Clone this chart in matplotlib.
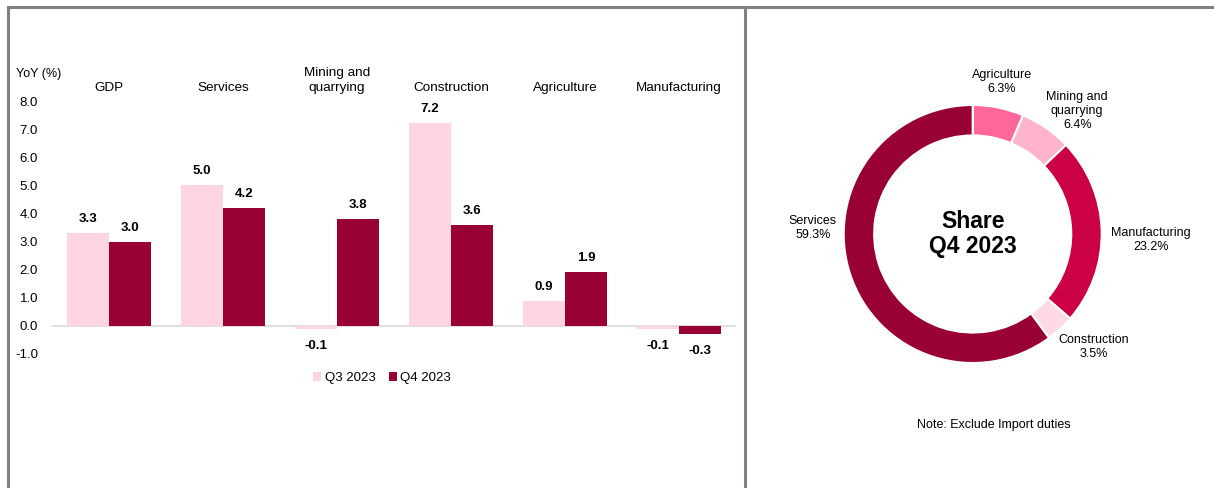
import matplotlib
matplotlib.use("Agg")
import matplotlib.pyplot as plt
import numpy as np
from matplotlib.lines import Line2D
from matplotlib.patches import Patch
from matplotlib.transforms import blended_transform_factory

plt.rcParams['font.family'] = ['Liberation Sans', 'DejaVu Sans']

# ---- data ----
categories = ["GDP", "Services", "Mining and\nquarrying", "Construction", "Agriculture", "Manufacturing"]
q3_2023 = [3.3, 5.0, -0.1, 7.2, 0.9, -0.1]
q4_2023 = [3.0, 4.2, 3.8, 3.6, 1.9, -0.3]
series_names = ["Q3 2023", "Q4 2023"]
yticks = [-1.0, 0.0, 1.0, 2.0, 3.0, 4.0, 5.0, 6.0, 7.0, 8.0]

share_labels = ["Agriculture", "Mining and\nquarrying", "Manufacturing", "Construction", "Services"]
share_values = [6.3, 6.4, 23.2, 3.5, 59.3]

C_Q3 = "#FFD5E2"
C_Q4 = "#990033"
share_colors = ["#FF6699", "#FFB3CC", "#CC0044", "#FFD9E5", "#990033"]

W, H = 1214, 488
fig = plt.figure(figsize=(W / 100, H / 100), dpi=100)
fig.patch.set_facecolor("white")

def px_rect(x0, y0, x1, y1):
    return [x0 / W, 1 - y1 / H, (x1 - x0) / W, (y1 - y0) / H]

# ---- frame lines ----
frame_color = "#808080"
fig.add_artist(Line2D([7.5 / W, 1.0], [1 - 6.8 / H] * 2, color=frame_color, lw=2.2, transform=fig.transFigure))
fig.add_artist(Line2D([7.8 / W] * 2, [0, 1 - 6.8 / H], color=frame_color, lw=2.2, transform=fig.transFigure))
fig.add_artist(Line2D([744.5 / W] * 2, [0, 1 - 6.8 / H], color=frame_color, lw=2.2, transform=fig.transFigure))

# ---- bar chart ----
ax = fig.add_axes(px_rect(52, 101, 736, 354))
n = len(categories)
x = np.arange(n)
bw = 0.368
ax.bar(x - bw / 2, q3_2023, width=bw, color=C_Q3, label=series_names[0], zorder=2)
ax.bar(x + bw / 2, q4_2023, width=bw, color=C_Q4, label=series_names[1], zorder=2)
ax.set_xlim(-0.5, n - 0.5)
ax.set_ylim(-1.0, 8.0)
ax.axhline(0, color="#D9D9D9", lw=1.2, zorder=1)
for s in ax.spines.values():
    s.set_visible(False)
ax.set_xticks([])
ax.set_yticks(yticks)
ax.set_yticklabels([f"{v:.1f}" for v in yticks], fontsize=9.5, color="#000000")
ax.tick_params(axis="y", length=0, pad=10)

for xs, vals in ((x - bw / 2, q3_2023), (x + bw / 2, q4_2023)):
    for xi, v in zip(xs, vals):
        off = 14 if v >= 0 else -17
        ax.annotate(f"{v:.1f}", (xi, v), xytext=(0, off), textcoords="offset pixels",
                    ha="center", va="center", fontsize=9.5, fontweight="bold")

trans = blended_transform_factory(ax.transData, fig.transFigure)
for xi, c in zip(x, categories):
    ax.text(xi, 1 - 94 / H, c, transform=trans, ha="center", va="bottom", fontsize=9.7,
            linespacing=1.3)

fig.text(16 / W, 1 - 74 / H, "YoY (%)", ha="left", va="center", fontsize=9,
         bbox=dict(facecolor="white", edgecolor="none", pad=3))

handles = [Patch(facecolor=C_Q3), Patch(facecolor=C_Q4)]
fig.legend(handles, series_names, loc="center", bbox_to_anchor=(382 / W, 1 - 378 / H),
           ncol=2, frameon=False, fontsize=9.5, handlelength=0.6, handleheight=0.6,
           handletextpad=0.3, columnspacing=1.0)

# ---- donut ----
R = 129.0
cx, cy = 972.7, 234.0
hw, hh = 215.0, 204.0
pax = fig.add_axes(px_rect(cx - hw, cy - hh, cx + hw, cy + hh))
pax.pie(share_values, colors=share_colors, startangle=90, counterclock=False,
        radius=1.0, wedgeprops=dict(width=0.236, edgecolor="white", linewidth=1.5))
pax.set_aspect("auto")
pax.set_xlim(-hw / R, hw / R)
pax.set_ylim(-hh / R, hh / R)
pax.axis("off")

label_pos = [(0.225, 1.18), (0.81, 0.955), (1.38, -0.047), (0.94, -0.876), (-1.24, 0.047)]
for lab, val, (lx, ly) in zip(share_labels, share_values, label_pos):
    pax.text(lx, ly, f"{lab}\n{val:.1f}%", ha="center", va="center", fontsize=9, linespacing=1.25)

pax.text(0, 0, "Share\nQ4 2023", ha="center", va="center", fontsize=16.5, fontweight="bold",
         linespacing=1.15)
pax.text(0.165, -1.48, "Note: Exclude Import duties", ha="center", va="center", fontsize=9)

fig.savefig("out.png", dpi=100, facecolor="white")
